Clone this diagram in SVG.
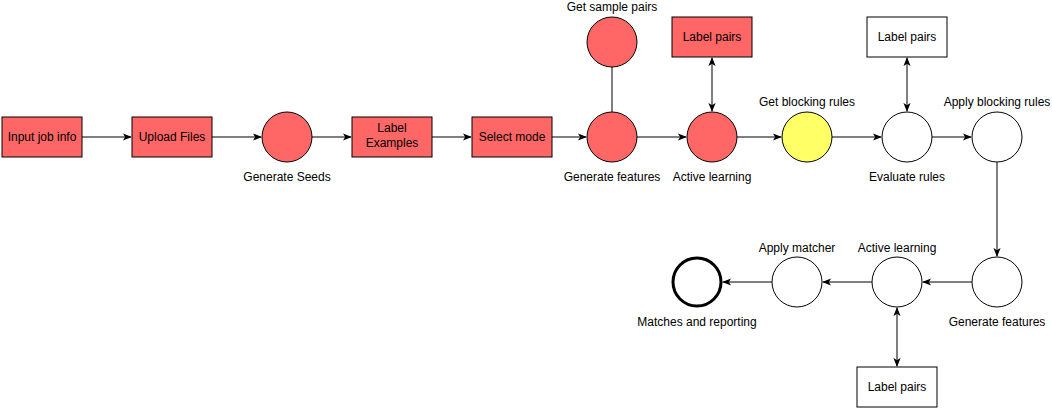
<svg xmlns="http://www.w3.org/2000/svg" width="1052" height="409" viewBox="0 0 1052 409">
<style>
text{font-family:"Liberation Sans",Arial,sans-serif;font-size:12px;fill:#000;text-anchor:middle}
.r{fill:#FF6666;stroke:#000;stroke-width:1}
.w{fill:#fff;stroke:#000;stroke-width:1}
.y{fill:#FFFF66;stroke:#000;stroke-width:1}
.c{stroke:#000;stroke-width:1;fill:none}
</style>
<defs>
<marker id="a" viewBox="0 0 10 10" refX="9" refY="5" markerWidth="9" markerHeight="9" markerUnits="userSpaceOnUse" orient="auto-start-reverse">
<path d="M0,1 L10,5 L0,9 L2.5,5 z" fill="#000"/>
</marker>
</defs>
<rect width="1052" height="409" fill="#fff"/>
<g id="connectors">
<line class="c" x1="82" y1="137" x2="131" y2="137" marker-end="url(#a)"/>
<line class="c" x1="212" y1="137" x2="261" y2="137" marker-end="url(#a)"/>
<line class="c" x1="312" y1="137" x2="351" y2="137" marker-end="url(#a)"/>
<line class="c" x1="432" y1="137" x2="471" y2="137" marker-end="url(#a)"/>
<line class="c" x1="552" y1="137" x2="586" y2="137" marker-end="url(#a)"/>
<line class="c" x1="612" y1="67" x2="612" y2="112"/>
<line class="c" x1="637" y1="137" x2="686" y2="137" marker-end="url(#a)"/>
<line class="c" x1="712" y1="58" x2="712" y2="111" marker-start="url(#a)" marker-end="url(#a)"/>
<line class="c" x1="737" y1="137" x2="781" y2="137" marker-end="url(#a)"/>
<line class="c" x1="832" y1="137" x2="881" y2="137" marker-end="url(#a)"/>
<line class="c" x1="907" y1="58" x2="907" y2="111" marker-start="url(#a)" marker-end="url(#a)"/>
<line class="c" x1="932" y1="137" x2="971" y2="137" marker-end="url(#a)"/>
<line class="c" x1="997" y1="162" x2="997" y2="256" marker-end="url(#a)"/>
<line class="c" x1="972" y1="282" x2="923" y2="282" marker-end="url(#a)"/>
<line class="c" x1="872" y1="282" x2="823" y2="282" marker-end="url(#a)"/>
<line class="c" x1="772" y1="282" x2="723" y2="282" marker-end="url(#a)"/>
<line class="c" x1="897" y1="308" x2="897" y2="366" marker-start="url(#a)" marker-end="url(#a)"/>
</g>
<g id="input-job-info"><rect class="r" x="2" y="117" width="80" height="40"/><text x="42" y="141">Input job info</text></g>
<g id="upload-files"><rect class="r" x="132" y="117" width="80" height="40"/><text x="172" y="141">Upload Files</text></g>
<g id="generate-seeds"><circle class="r" cx="287" cy="137" r="25"/><text x="287" y="181">Generate Seeds</text></g>
<g id="label-examples"><rect class="r" x="352" y="117" width="80" height="40"/><text x="392" y="132">Label</text><text x="392" y="147">Examples</text></g>
<g id="select-mode"><rect class="r" x="472" y="117" width="80" height="40"/><text x="512" y="141">Select mode</text></g>
<g id="get-sample-pairs"><circle class="r" cx="612" cy="42" r="25"/><text x="612" y="11">Get sample pairs</text></g>
<g id="generate-features-1"><circle class="r" cx="612" cy="137" r="25"/><text x="612" y="181">Generate features</text></g>
<g id="label-pairs-1"><rect class="r" x="672" y="17" width="80" height="40"/><text x="712" y="41">Label pairs</text></g>
<g id="active-learning-1"><circle class="r" cx="712" cy="137" r="25"/><text x="712" y="181">Active learning</text></g>
<g id="get-blocking-rules"><circle class="y" cx="807" cy="137" r="25"/><text x="807" y="106">Get blocking rules</text></g>
<g id="label-pairs-2"><rect class="w" x="867" y="17" width="80" height="40"/><text x="907" y="41">Label pairs</text></g>
<g id="evaluate-rules"><circle class="w" cx="907" cy="137" r="25"/><text x="907" y="181">Evaluate rules</text></g>
<g id="apply-blocking-rules"><circle class="w" cx="997" cy="137" r="25"/><text x="997" y="106">Apply blocking rules</text></g>
<g id="generate-features-2"><circle class="w" cx="997" cy="282" r="25"/><text x="997" y="326">Generate features</text></g>
<g id="active-learning-2"><circle class="w" cx="897" cy="282" r="25"/><text x="897" y="252">Active learning</text></g>
<g id="label-pairs-3"><rect class="w" x="857" y="367" width="80" height="40"/><text x="897" y="391">Label pairs</text></g>
<g id="apply-matcher"><circle class="w" cx="797" cy="282" r="25"/><text x="797" y="252">Apply matcher</text></g>
<g id="matches-and-reporting"><circle cx="697" cy="282" r="24" fill="#fff" stroke="#000" stroke-width="3"/><text x="697" y="326">Matches and reporting</text></g>
</svg>
